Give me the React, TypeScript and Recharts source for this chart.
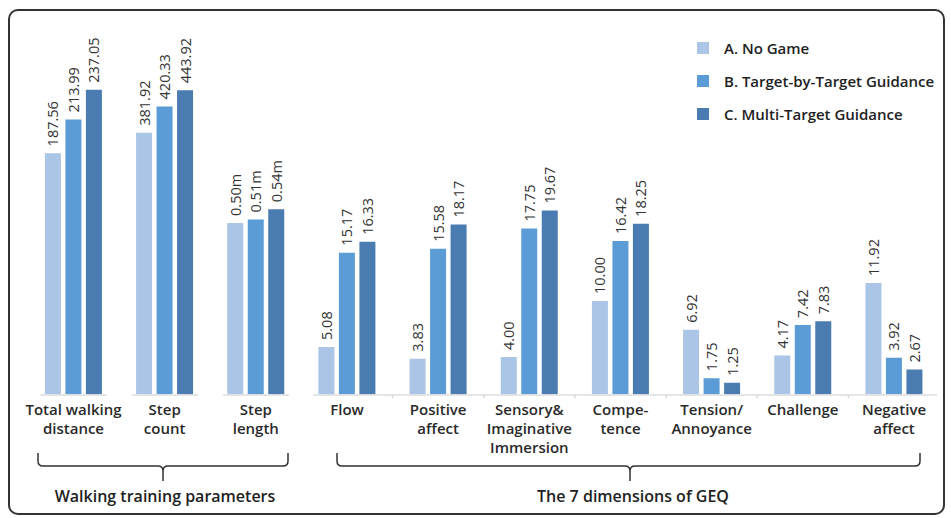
import { BarChart, Bar, XAxis, YAxis, Legend, LabelList } from 'recharts';

const categories = [
  'Total walking\ndistance',
  'Step\ncount',
  'Step\nlength',
  'Flow',
  'Positive\naffect',
  'Sensory&\nImaginative\nImmersion',
  'Compe-\ntence',
  'Tension/\nAnnoyance',
  'Challenge',
  'Negative\naffect',
];

const noGame = [187.56, 381.92, 0.5, 5.08, 3.83, 4.0, 10.0, 6.92, 4.17, 11.92];
const targetByTarget = [213.99, 420.33, 0.51, 15.17, 15.58, 17.75, 16.42, 1.75, 7.42, 3.92];
const multiTarget = [237.05, 443.92, 0.54, 16.33, 18.17, 19.67, 18.25, 1.25, 7.83, 2.67];
const units = ['', '', 'm', '', '', '', '', '', '', ''];
// each walking parameter is drawn on its own scale, relative to the GEQ score scale
const displayScale = [0.1375, 0.0733, 36.7, 1, 1, 1, 1, 1, 1, 1];

const seriesNames = ['A. No Game', 'B. Target-by-Target Guidance', 'C. Multi-Target Guidance'];
const colors = ['#abc5e6', '#5b9bd6', '#4a7cb1'];

const data = categories.map((name, i) => ({
  name,
  a: noGame[i] * displayScale[i],
  b: targetByTarget[i] * displayScale[i],
  c: multiTarget[i] * displayScale[i],
  aLabel: noGame[i].toFixed(2) + units[i],
  bLabel: targetByTarget[i].toFixed(2) + units[i],
  cLabel: multiTarget[i].toFixed(2) + units[i],
}));

const FONT = '"Open Sans", "Noto Sans", sans-serif';
const W = 951;
const H = 518;
const MARGIN = { top: 20.5, right: 11.4, bottom: 63.5, left: 27.9 };
const BAND = (W - MARGIN.left - MARGIN.right) / categories.length;

function ValueLabel(props: any) {
  const { x, y, width, value } = props;
  const cx = x + width / 2;
  const ty = y - 7;
  return (
    <text
      x={cx}
      y={ty}
      transform={`rotate(-90 ${cx} ${ty})`}
      textAnchor="start"
      dominantBaseline="central"
      fontSize={14.5}
      fontFamily={FONT}
      fill="#333"
    >
      {value}
    </text>
  );
}

function CategoryTick(props: any) {
  const { x, y, payload } = props;
  const i = payload.index;
  const lines = categories[i].split('\n');
  const walking = i < 3;
  return (
    <g>
      {walking ? (
        <line x1={x - 33} x2={x + 33} y1={y + 0.5} y2={y + 0.5} stroke="#dcdcdc" strokeWidth={1.5} />
      ) : (
        <line
          x1={i === 3 ? x - 34 : x - BAND / 2}
          x2={i === categories.length - 1 ? x + 43 : x + BAND / 2}
          y1={y + 0.5}
          y2={y + 0.5}
          stroke="#dcdcdc"
          strokeWidth={1.5}
        />
      )}
      {!walking && i > 3 && (
        <line x1={x - BAND / 2} x2={x - BAND / 2} y1={y} y2={y + 4} stroke="#dcdcdc" strokeWidth={1.5} />
      )}
      {lines.map((line, k) => (
        <text
          key={k}
          x={x}
          y={y + 20 + k * 19}
          textAnchor="middle"
          fontSize={15}
          fontWeight={600}
          fontFamily={FONT}
          fill="#2a2a2a"
        >
          {line}
        </text>
      ))}
    </g>
  );
}

function LegendContent(props: any) {
  const { payload } = props;
  return (
    <div style={{ fontFamily: FONT }}>
      {(payload || []).map((entry: any, k: number) => (
        <div key={k} style={{ display: 'flex', alignItems: 'center', height: 33 }}>
          <span
            style={{ display: 'inline-block', width: 12, height: 12, background: entry.color, marginRight: 15 }}
          />
          <span style={{ fontSize: 15, fontWeight: 600, color: '#222' }}>{entry.value}</span>
        </div>
      ))}
    </div>
  );
}

function bracePath(x1: number, x2: number, xm: number) {
  const y0 = 453;
  const y1 = 466;
  const y2 = 481;
  const r = 5;
  return (
    `M ${x1} ${y0} L ${x1} ${y1 - r} Q ${x1} ${y1} ${x1 + r} ${y1} L ${xm - r} ${y1} ` +
    `Q ${xm} ${y1} ${xm} ${y1 + r} L ${xm} ${y2} M ${xm} ${y1 + r} Q ${xm} ${y1} ${xm + r} ${y1} ` +
    `L ${x2 - r} ${y1} Q ${x2} ${y1} ${x2} ${y1 - r} L ${x2} ${y0}`
  );
}

export default function App() {
  return (
    <div style={{ position: 'fixed', left: 0, top: 0, width: W, height: H, background: '#fff' }}>
      <div
        style={{
          position: 'absolute',
          left: 8,
          top: 9,
          width: 933,
          height: 502,
          border: '2px solid #333',
          borderRadius: 10,
        }}
      />
      <div style={{ position: 'absolute', left: 0, top: 0 }}>
        <BarChart width={W} height={H} data={data} margin={MARGIN} barSize={16} barGap={4.5}>
          <XAxis
            dataKey="name"
            axisLine={false}
            tickLine={false}
            tickSize={0}
            tickMargin={0}
            interval={0}
            height={60}
            tick={(p: any) => <CategoryTick {...p} />}
          />
          <YAxis hide domain={[0, 40]} allowDataOverflow />
          <Legend
            layout="vertical"
            align="center"
            verticalAlign="middle"
            content={(p: any) => <LegendContent {...p} />}
            wrapperStyle={{ position: 'absolute', left: 697, top: 31, width: 250, height: 100 }}
          />
          <Bar dataKey="a" name={seriesNames[0]} fill={colors[0]} isAnimationActive={false}>
            <LabelList dataKey="aLabel" content={(p: any) => <ValueLabel {...p} />} />
          </Bar>
          <Bar dataKey="b" name={seriesNames[1]} fill={colors[1]} isAnimationActive={false}>
            <LabelList dataKey="bLabel" content={(p: any) => <ValueLabel {...p} />} />
          </Bar>
          <Bar dataKey="c" name={seriesNames[2]} fill={colors[2]} isAnimationActive={false}>
            <LabelList dataKey="cLabel" content={(p: any) => <ValueLabel {...p} />} />
          </Bar>
        </BarChart>
      </div>
      <svg
        width={W}
        height={H}
        style={{ position: 'absolute', left: 0, top: 0, pointerEvents: 'none' }}
      >
        <path d={bracePath(38, 288, 163)} fill="none" stroke="#333" strokeWidth={1.5} />
        <path d={bracePath(337, 920, 630)} fill="none" stroke="#333" strokeWidth={1.5} />
        <text x={165} y={502} textAnchor="middle" fontSize={16} fontWeight={600} fontFamily={FONT} fill="#222">
          Walking training parameters
        </text>
        <text x={633} y={502} textAnchor="middle" fontSize={16} fontWeight={600} fontFamily={FONT} fill="#222">
          The 7 dimensions of GEQ
        </text>
      </svg>
    </div>
  );
}
